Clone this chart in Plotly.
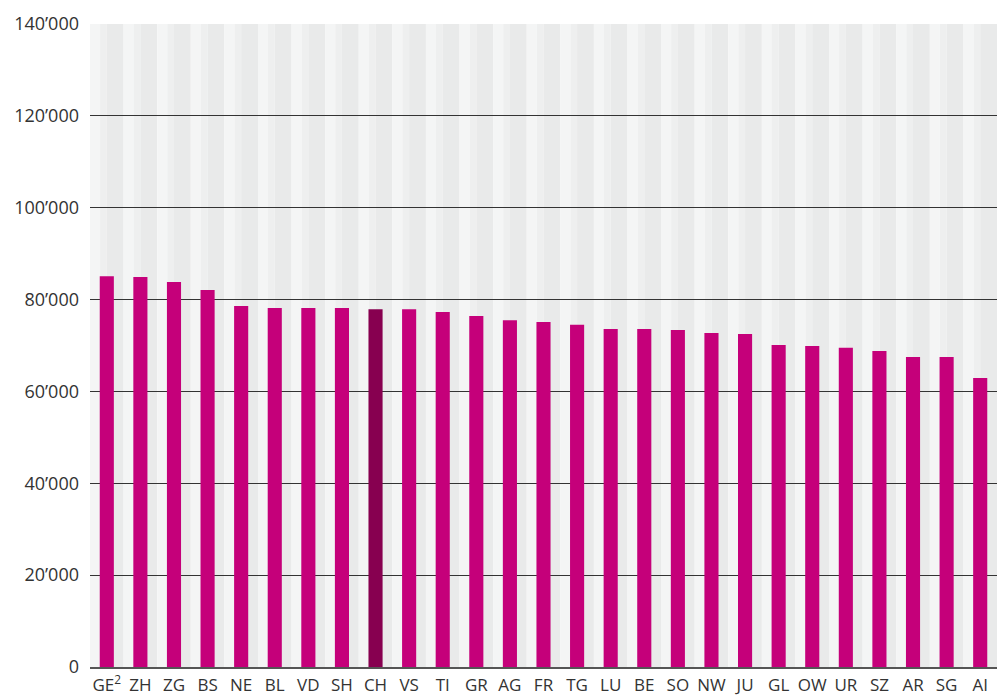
import plotly.graph_objects as go

categories = ["GE<sup>2</sup>", "ZH", "ZG", "BS", "NE", "BL", "VD", "SH", "CH", "VS", "TI", "GR", "AG",
              "FR", "TG", "LU", "BE", "SO", "NW", "JU", "GL", "OW", "UR", "SZ", "AR", "SG", "AI"]
values = [85100, 84900, 83800, 82100, 78600, 78150, 78150, 78150, 77900, 77900, 77300, 76400, 75500,
          75100, 74500, 73600, 73600, 73400, 72700, 72500, 70100, 69900, 69500, 68800, 67500, 67500, 62900]
highlight = "CH"
y_tickvals = [0, 20000, 40000, 60000, 80000, 100000, 120000, 140000]
y_ticktext = ["0", "20’000", "40’000", "60’000", "80’000", "100’000", "120’000", "140’000"]

bar_colors = ["#870050" if c == highlight else "#c5007a" for c in categories]
xs = list(range(len(categories)))

fig = go.Figure()
fig.add_trace(go.Bar(x=xs, y=values, marker=dict(color=bar_colors, line=dict(width=0)), width=0.42))

shapes = []
for i in xs:
    shapes.append(dict(type="rect", xref="x", yref="y", x0=i - 0.5, x1=i - 0.2, y0=0, y1=140000,
                       fillcolor="#f4f5f5", line=dict(width=0), layer="below"))
    shapes.append(dict(type="rect", xref="x", yref="y", x0=i - 0.2, x1=i, y0=0, y1=140000,
                       fillcolor="#eeefef", line=dict(width=0), layer="below"))
    shapes.append(dict(type="rect", xref="x", yref="y", x0=i, x1=i + 0.5, y0=0, y1=140000,
                       fillcolor="#e9eaea", line=dict(width=0), layer="below"))

fig.update_layout(
    width=997, height=696,
    margin=dict(l=90, r=0, t=24, b=29),
    plot_bgcolor="white", paper_bgcolor="white",
    shapes=shapes, showlegend=False,
    font=dict(family="Open Sans", size=17, color="#333333"),
    xaxis=dict(tickmode="array", tickvals=xs, ticktext=categories, range=[-0.5, len(categories) - 0.5],
               showgrid=False, showline=True, linecolor="#555555", linewidth=2, ticks="", zeroline=False,
               tickfont=dict(size=17), ticklabelstandoff=2),
    yaxis=dict(tickmode="array", tickvals=y_tickvals, ticktext=y_ticktext, range=[0, 140000],
               showgrid=True, gridcolor="#333333", gridwidth=1, zeroline=False, ticks="",
               tickfont=dict(size=18), ticklabelstandoff=10),
)

fig.write_html("out.html", config={"displayModeBar": False},
               post_script="document.body.style.margin='0';document.body.style.overflow='hidden';")
